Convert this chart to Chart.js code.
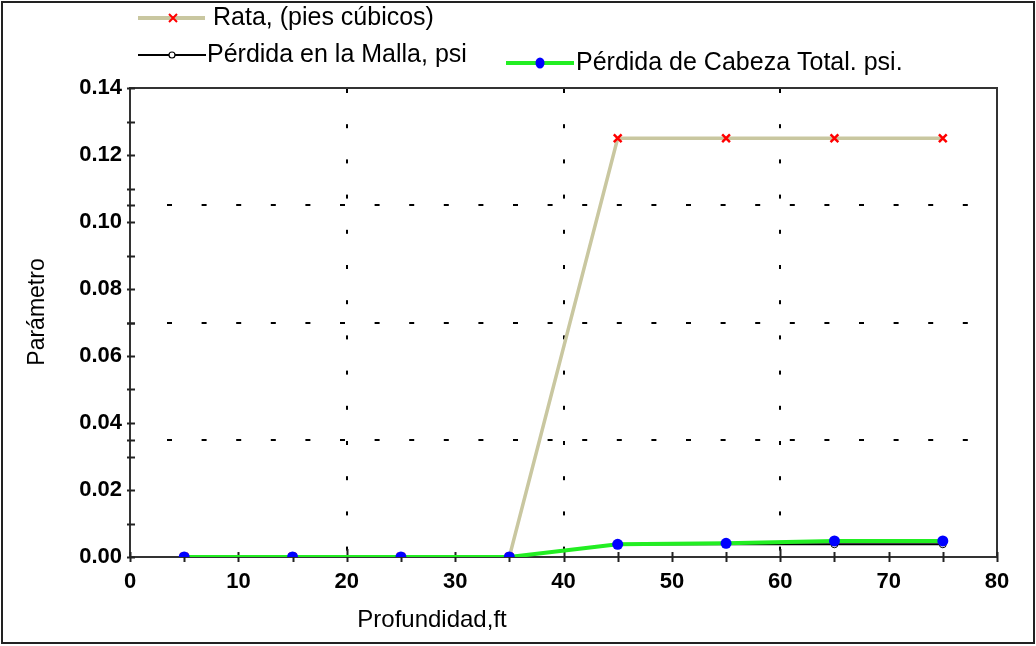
<!DOCTYPE html>
<html>
<head>
<meta charset="utf-8">
<script src="https://cdn.jsdelivr.net/npm/chart.js@4/dist/chart.umd.min.js"></script>
<style>
  html, body { margin: 0; padding: 0; background: #fff; }
  #wrap { position: relative; width: 1036px; height: 646px; }
</style>
</head>
<body>
<div id="wrap"><canvas id="c" width="1036" height="646"></canvas></div>
<script>
// Depth (ft) at which each value was taken
const profundidad = [5, 15, 25, 35, 45, 55, 65, 75];
// Flow rate, cubic feet
const rata = [0, 0, 0, 0, 0.125, 0.125, 0.125, 0.125];
// Screen loss, psi
const perdidaMalla = [0, 0, 0, 0, 0.0037, 0.0038, 0.0038, 0.0038];
// Total head loss, psi
const perdidaTotal = [0, 0, 0, 0, 0.0038, 0.0041, 0.0048, 0.0048];

// Axis ranges and dotted reference lines
const xRange = [0, 80];
const yRange = [0, 0.14];
const xGridValues = [20, 40, 60];
const yGridValues = [0.035, 0.07, 0.105];

const seriesNames = ['Rata, (pies cúbicos)', 'Pérdida en la Malla, psi', 'Pérdida de Cabeza Total. psi.'];
const xTitle = 'Profundidad,ft';
const yTitle = 'Parámetro';

const FONT = '"Liberation Sans", Arial, sans-serif';
const TAN = '#c9c7a0';
const GREEN = '#22ee22';

const points = arr => profundidad.map((x, i) => ({ x, y: arr[i] }));

// Frame, tick marks and dotted grid drawn through the chart's scales
const decorations = {
  id: 'decorations',
  beforeDatasetsDraw(chart) {
    const { ctx, chartArea: a, scales: { x, y } } = chart;
    ctx.save();
    // dotted grid
    ctx.fillStyle = '#000';
    xGridValues.forEach(v => {
      const px = Math.round(x.getPixelForValue(v));
      for (let py = a.top + 1; py < a.bottom - 2; py += 35.2) ctx.fillRect(px - 1, py, 2, 4);
    });
    yGridValues.forEach(v => {
      const py = Math.round(y.getPixelForValue(v));
      for (let px = a.left + 37; px < a.right - 3; px += 34.6) ctx.fillRect(px, py - 1, 5, 2);
    });
    // frame
    ctx.strokeStyle = '#333';
    ctx.lineWidth = 2;
    ctx.strokeRect(a.left, a.top, a.right - a.left, a.bottom - a.top);
    // y tick marks every 0.01 plus at the grid lines
    ctx.lineWidth = 2;
    ctx.strokeStyle = '#222';
    const yMarks = [];
    for (let k = 0; k <= 14; k++) yMarks.push(k / 100);
    yMarks.concat(yGridValues).forEach(v => {
      const py = Math.round(y.getPixelForValue(v)) + 0.5;
      ctx.beginPath();
      ctx.moveTo(a.left - 3, py);
      ctx.lineTo(a.left + 5, py);
      ctx.stroke();
    });
    // x tick marks every 5
    for (let v = xRange[0]; v <= xRange[1]; v += 5) {
      const px = Math.round(x.getPixelForValue(v)) + 0.5;
      const up = xGridValues.includes(v) ? 8 : 5;
      ctx.beginPath();
      ctx.moveTo(px, a.bottom - up);
      ctx.lineTo(px, a.bottom + 5);
      ctx.stroke();
    }
    ctx.restore();
  },
  afterDraw(chart) {
    const { ctx, width, height } = chart;
    ctx.save();
    // outer border
    ctx.strokeStyle = '#222';
    ctx.lineWidth = 2;
    ctx.strokeRect(2, 2, width - 4, height - 5);

    ctx.fillStyle = '#000';
    ctx.textBaseline = 'middle';
    ctx.textAlign = 'left';
    ctx.font = '25px ' + FONT;

    // legend row 1
    ctx.strokeStyle = TAN; ctx.lineWidth = 4;
    ctx.beginPath(); ctx.moveTo(138, 18); ctx.lineTo(205, 18); ctx.stroke();
    ctx.strokeStyle = '#ff0000'; ctx.lineWidth = 2;
    ctx.beginPath(); ctx.moveTo(169, 14); ctx.lineTo(177, 22); ctx.moveTo(177, 14); ctx.lineTo(169, 22); ctx.stroke();
    ctx.fillText(seriesNames[0], 213, 18);

    // legend row 2
    ctx.strokeStyle = '#000'; ctx.lineWidth = 2;
    ctx.beginPath(); ctx.moveTo(138, 55); ctx.lineTo(206, 55); ctx.stroke();
    ctx.fillStyle = '#fff'; ctx.lineWidth = 1.2;
    ctx.beginPath(); ctx.arc(172, 55, 3, 0, Math.PI * 2); ctx.fill(); ctx.stroke();
    ctx.fillStyle = '#000';
    ctx.fillText(seriesNames[1], 207, 55);

    // legend row 3
    ctx.strokeStyle = GREEN; ctx.lineWidth = 4;
    ctx.beginPath(); ctx.moveTo(506, 63); ctx.lineTo(574, 63); ctx.stroke();
    ctx.fillStyle = '#0000ff';
    ctx.beginPath(); ctx.ellipse(540, 63, 4.5, 5.5, 0, 0, Math.PI * 2); ctx.fill();
    ctx.fillStyle = '#000';
    ctx.fillText(seriesNames[2], 576, 63);

    // axis titles
    ctx.font = '24px ' + FONT;
    ctx.textAlign = 'center';
    ctx.fillText(xTitle, 432, 620);
    ctx.font = '23px ' + FONT;
    ctx.save();
    ctx.translate(38, 312);
    ctx.rotate(-Math.PI / 2);
    ctx.fillText(yTitle, 0, 0);
    ctx.restore();
    ctx.restore();
  }
};

new Chart(document.getElementById('c'), {
  type: 'line',
  data: {
    datasets: [
      {
        label: seriesNames[0],
        data: points(rata),
        borderColor: TAN,
        borderWidth: 3.5,
        pointStyle: 'crossRot',
        pointRadius: 5.5,
        pointBorderColor: '#ff0000',
        pointBorderWidth: 2.5,
        order: 3
      },
      {
        label: seriesNames[1],
        data: points(perdidaMalla),
        borderColor: '#000',
        borderWidth: 2,
        pointStyle: 'circle',
        pointRadius: 3.5,
        pointBackgroundColor: '#fff',
        pointBorderColor: '#000',
        pointBorderWidth: 1,
        order: 2
      },
      {
        label: seriesNames[2],
        data: points(perdidaTotal),
        borderColor: GREEN,
        borderWidth: 4,
        pointStyle: 'circle',
        pointRadius: 5.5,
        pointBackgroundColor: '#0000ff',
        pointBorderColor: '#0000ff',
        pointBorderWidth: 0,
        order: 1
      }
    ]
  },
  options: {
    responsive: false,
    animation: false,
    events: [],
    layout: { padding: { top: 88, right: 39, left: 0, bottom: 0 } },
    plugins: { legend: { display: false }, tooltip: { enabled: false }, title: { display: false } },
    elements: { line: { tension: 0, fill: false } },
    scales: {
      x: {
        type: 'linear',
        min: xRange[0],
        max: xRange[1],
        afterFit: s => { s.height = 89; },
        grid: { display: false, drawTicks: false },
        border: { display: false },
        ticks: {
          stepSize: 10,
          color: '#000',
          padding: 12,
          maxRotation: 0,
          font: { family: FONT, size: 22, weight: 'bold' }
        }
      },
      y: {
        type: 'linear',
        min: yRange[0],
        max: yRange[1],
        afterFit: s => { s.width = 130; },
        grid: { display: false, drawTicks: false },
        border: { display: false },
        ticks: {
          stepSize: 0.02,
          color: '#000',
          padding: 8,
          font: { family: FONT, size: 22, weight: 'bold' },
          callback: v => Number(v).toFixed(2)
        }
      }
    }
  },
  plugins: [decorations]
});
</script>
</body>
</html>
